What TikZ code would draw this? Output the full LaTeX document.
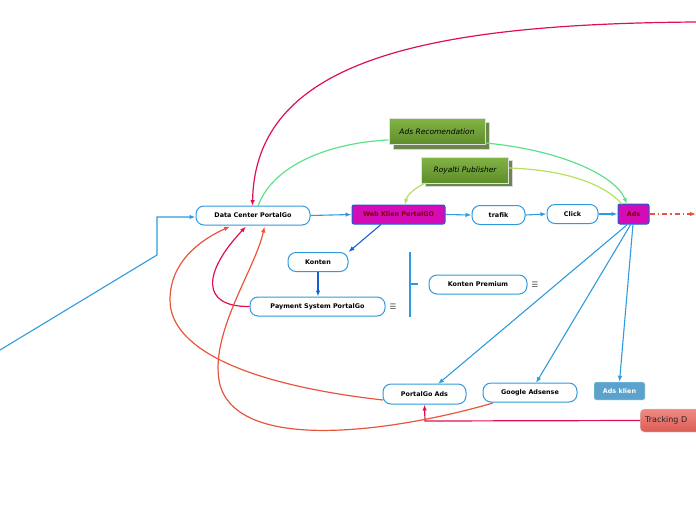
\documentclass[tikz,border=0pt]{standalone}
\usepackage{fontspec}
\setmainfont{DejaVu Sans}
\usetikzlibrary{arrows.meta}
\definecolor{lblue}{HTML}{2F9BDE}
\definecolor{dblue}{HTML}{1560D0}
\definecolor{crim}{HTML}{E0104F}
\definecolor{tomato}{HTML}{E8553E}
\definecolor{mint}{HTML}{5FE08A}
\definecolor{lime}{HTML}{B5E060}
\definecolor{mag}{HTML}{D30CB8}
\definecolor{gtop}{HTML}{82B444}
\definecolor{gbot}{HTML}{5E8C2C}
\definecolor{steel}{HTML}{5BA3CC}
\definecolor{ttop}{HTML}{F08A84}
\definecolor{tbot}{HTML}{DC5C55}
\begin{document}
\begin{tikzpicture}[x=1pt,y=-1pt,
  tip/.style={-{Latex[length=6pt,width=4.5pt]}},
  topic/.style={draw=lblue,line width=1pt,fill=white,rounded corners=8pt,inner sep=0pt,minimum height=19pt,font=\bfseries\fontsize{6.4}{7.5}\selectfont},
  magbox/.style={draw=dblue,line width=1pt,fill=mag,rounded corners=2pt,inner sep=0pt,minimum height=19pt,text=red!50!black,font=\bfseries\fontsize{6.4}{7.5}\selectfont},
  greenbox/.style={draw=white!88!black,line width=1pt,top color=gtop,bottom color=gbot,inner sep=0pt,minimum height=26pt,font=\itshape\fontsize{7.5}{9}\selectfont},
  gshadow/.style={fill=gbot!60!gray,draw=white!85!black,line width=0.5pt},
  conn/.style={draw=lblue,line width=1.1pt},
  menu/.style={font=\fontsize{7.5}{9}\selectfont,text=black!75}
]
\useasboundingbox (0,0) rectangle (696,520);

% green boxes with shadow
\fill[gshadow] (393,122) rectangle (489,149);
\node[greenbox,minimum width=96pt] (rec) at (437,131.5) {Ads Recomendation};
\fill[gshadow] (425,160) rectangle (512,186);
\node[greenbox,minimum width=87pt] (roy) at (465,170) {Royalti Publisher};

% nodes
\node[topic,minimum width=114pt] (dc) at (253,215.5) {Data Center PortalGo};
\node[magbox,minimum width=93pt] (wk) at (398.5,214.5) {Web Klien PortalGO};
\node[topic,minimum width=53pt] (tr) at (498.5,215) {trafik};
\node[topic,minimum width=51pt] (cl) at (572.5,214) {Click};
\node[magbox,minimum width=31pt,minimum height=20pt] (ads) at (633.5,214) {Ads};
\node[topic,minimum width=60pt] (kon) at (318,262) {Konten};
\node[topic,minimum width=135pt] (pay) at (317.5,306.5) {Payment System PortalGo};
\node[menu] (m1) at (393,307) {☰};
\node[topic,minimum width=98pt] (kp) at (478,284.5) {Konten Premium};
\node[menu] (m2) at (535,285) {☰};
\node[topic,minimum width=83pt,minimum height=20pt] (pga) at (424.5,394) {PortalGo Ads};
\node[topic,minimum width=94pt] (ga) at (530,392.5) {Google Adsense};
\node[fill=steel,draw=white!80!steel,rounded corners=2pt,inner sep=0pt,minimum width=51pt,minimum height=18pt,text=white,font=\bfseries\fontsize{6.4}{7.5}\selectfont] (ak) at (619.5,391) {Ads klien};
\node[top color=ttop,bottom color=tbot,draw=white!85!black,rounded corners=4pt,inner sep=0pt,minimum width=80pt,minimum height=23pt,text width=70pt,align=left,font=\fontsize{8}{9.5}\selectfont,anchor=west,text=black!85] (trk) at (640,420.5) {Tracking D};

% bracket
\coordinate (b1) at (410,252);
\coordinate (b2) at (410,317);
\coordinate (b3) at (410,284);
\coordinate (b4) at (418,284);
\draw[conn] (b1) -- (b2);
\draw[conn] (b3) -- (b4);

% blue connectors
\coordinate (l0) at (0,350);
\coordinate (l1) at (157,255);
\coordinate (l2) at (157,217);
\draw[conn,tip] (l0) -- (l1) -- (l2) -- (dc.west |- l2);
\draw[conn,tip] (dc.east) -- (wk.west);
\draw[conn,tip] (wk.east) -- (tr.west);
\draw[conn,tip] (tr.east) -- (cl.west);
\draw[conn,tip] (cl.east) -- (ads.west);
\draw[draw=dblue,line width=1.1pt,tip] (381,224.5) -- (kon.north east);
\draw[draw=dblue,line width=1.1pt,tip] (kon.south) -- (pay.north -| kon.south);
\draw[conn,tip] (628,224) -- (438,384);
\draw[conn,tip] (631,224) -- (536,383);
\draw[conn,tip] (633,224) -- (ak.north);

% dash-dot to the right
\coordinate (rr) at (696,214);
\draw[tomato,line width=1.1pt,dash pattern=on 5pt off 3pt on 1.5pt off 3pt,tip] (ads.east) -- (rr);

% green curves
\draw[mint,line width=1.2pt] (258,206) .. controls (275,160) and (340,142) .. (rec.west |- 0,140);
\draw[mint,line width=1.2pt,tip] (rec.east |- 0,143) .. controls (560,150) and (615,175) .. (627,204);
\draw[lime,line width=1.2pt,tip] (425,183) .. controls (414,189) and (407,195) .. (405,205);
\draw[lime,line width=1.2pt] (roy.east |- 0,168) .. controls (570,170) and (606,186) .. (622,204);

% crimson curves
\coordinate (tr0) at (696,22);
\draw[crim,line width=1.2pt,tip] (tr0) .. controls (420,24) and (255,62) .. (252.5,206);
\draw[crim,line width=1.2pt,tip] (pay.west) .. controls (200,307) and (203,272) .. (246,226.5);
\draw[crim,line width=1.2pt,tip] (trk.west) -- (425,421) -- (pga.south);

% tomato curves
\draw[tomato,line width=1.2pt,tip] (383,400) .. controls (250,385) and (170,350) .. (170,300) .. controls (170,262) and (200,240) .. (230,226.5);
\draw[tomato,line width=1.2pt,tip] (493,403) .. controls (400,430) and (240,455) .. (220,385) .. controls (208,335) and (255,270) .. (264.5,226.5);
\end{tikzpicture}
\end{document}
